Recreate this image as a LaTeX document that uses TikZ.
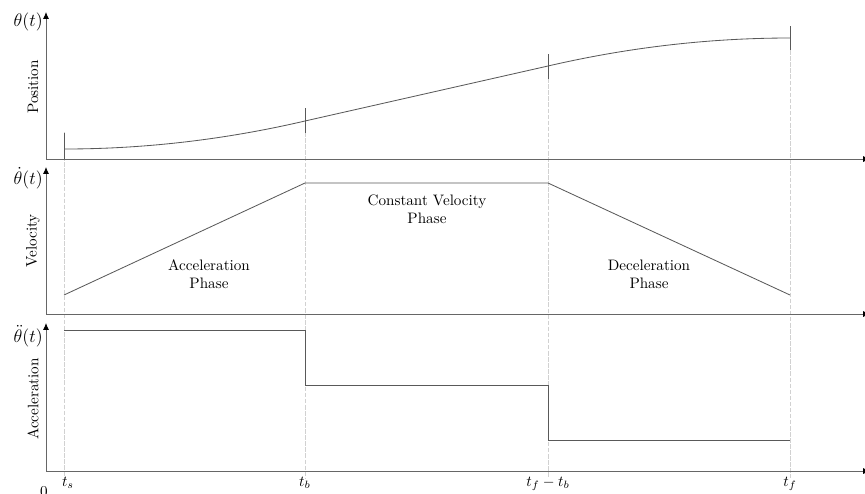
\documentclass[tikz,border=0pt]{standalone}
\usetikzlibrary{arrows.meta}
\begin{document}
\begin{tikzpicture}[x=0.66pt,y=-0.66pt,
  axis/.style={draw=black!60,line width=0.6pt,-{Latex[length=4.5pt,width=4pt,black]}},
  curve/.style={draw=black!65,line width=0.55pt},
  guide/.style={draw=black!18,line width=0.3pt,dash pattern=on 3pt off 1pt},
  mark tick/.style={draw=black!65,line width=0.6pt},
  tlabel/.style={anchor=base,inner sep=0pt},
  ylab/.style={anchor=east,inner sep=0pt,font=\large},
  side/.style={rotate=90,inner sep=0pt},
  phase/.style={align=center,inner sep=0pt}]
\useasboundingbox (0,0) rectangle (865,493);
\clip (0,0) rectangle (865,493);

% time instants
\coordinate (ts) at (64,0);
\coordinate (tb) at (305,0);
\coordinate (tfb) at (548,0);
\coordinate (tf) at (790,0);

% guide lines through the breakpoints
\draw[guide] (64,132) -- (64,478);
\draw[guide] (305,108) -- (305,478);
\draw[guide] (548,54) -- (548,478);
\draw[guide] (790,26) -- (790,478);

% axes
\coordinate (o1) at (46,159); \coordinate (y1) at (46,12); \coordinate (x1) at (870,159);
\coordinate (o2) at (46,314); \coordinate (y2) at (46,167); \coordinate (x2) at (870,314);
\coordinate (o3) at (46,471); \coordinate (y3) at (46,323); \coordinate (x3) at (870,471);
\draw[axis] (o1) -- (y1);
\draw[axis] (o1) -- (x1);
\draw[axis] (o2) -- (y2);
\draw[axis] (o2) -- (x2);
\draw[axis] (o3) -- (y3);
\draw[axis] (o3) -- (x3);

% axis labels
\node[ylab] (lth) at (43,22) {$\theta(t)$};
\node[ylab] (lthd) at (43,178) {$\dot\theta(t)$};
\node[ylab] (lthdd) at (43,336) {$\ddot\theta(t)$};
\node[side] (lpos) at (33,87) {Position};
\node[side] (lvel) at (33,241) {Velocity};
\node[side] (lacc) at (33,399) {Acceleration};

% position: parabolic blends around a linear segment
\coordinate (p0) at (64,149);
\coordinate (p1) at (305,121);
\coordinate (p2) at (548,66);
\coordinate (p3) at (790,38);
\draw[curve] (p0) .. controls (144.33,149) and (224.67,139.67) .. (p1)
  -- (p2) .. controls (628.67,47.33) and (709.33,38) .. (p3);
\draw[mark tick] (64,133) -- (64,159);
\draw[mark tick] (305,108) -- (305,133);
\draw[mark tick] (548,54) -- (548,79);
\draw[mark tick] (790,26) -- (790,50);

% velocity: trapezoid
\coordinate (v0) at (64,295);
\coordinate (v1) at (305,183);
\coordinate (v2) at (548,183);
\coordinate (v3) at (790,295);
\draw[curve] (v0) -- (v1) -- (v2) -- (v3);
\node[phase] (pa) at (209,274) {Acceleration\\Phase};
\node[phase] (pc) at (427,209) {Constant Velocity\\Phase};
\node[phase] (pd) at (649,274) {Deceleration\\Phase};

% acceleration: piecewise constant
\coordinate (a0) at (64,330);
\coordinate (a1) at (305,330);
\coordinate (a2) at (305,385);
\coordinate (a3) at (548,385);
\coordinate (a4) at (548,440);
\coordinate (a5) at (790,440);
\draw[curve] (a0) -- (a1) -- (a2) -- (a3) -- (a4) -- (a5);

% time labels
\node[tlabel] (l0) at (44,496) {$0$};
\node[tlabel] (lts) at (68,486) {$t_s$};
\node[tlabel] (ltb) at (305,486) {$t_b$};
\node[tlabel] (ltfb) at (548,486) {$t_f-t_b$};
\node[tlabel] (ltf) at (790,486) {$t_f$};
\end{tikzpicture}
\end{document}
